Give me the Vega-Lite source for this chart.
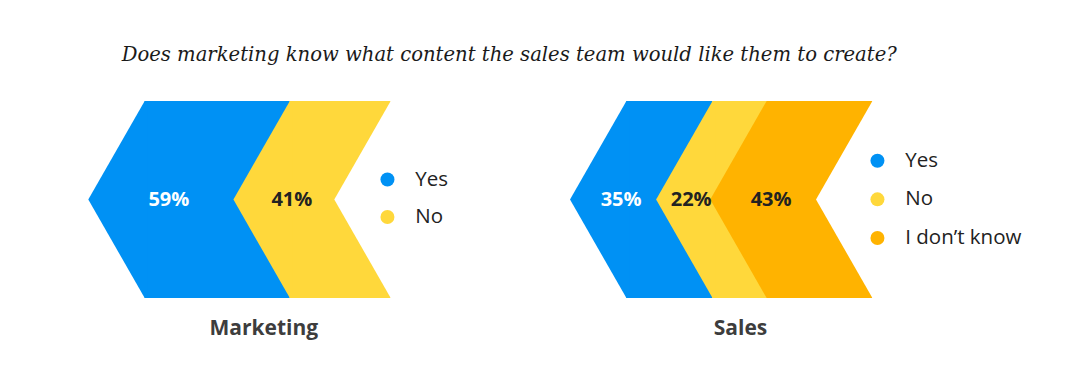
{
  "$schema": "https://vega.github.io/schema/vega-lite/v6.json",
  "padding": {"left": 0, "top": 44, "right": 0, "bottom": 20},
  "autosize": {"type": "pad"},
  "background": "#ffffff",
  "config": {"view": {"stroke": null}, "concat": {"spacing": 0}},
  "title": {
    "text": "Does marketing know what content the sales team would like them to create?",
    "anchor": "start",
    "frame": "group",
    "dx": 121.7,
    "font": "DejaVu Serif",
    "fontStyle": "italic",
    "fontWeight": "normal",
    "fontSize": 19.6,
    "color": "#1a1a1a",
    "baseline": "alphabetic",
    "offset": 20.5
  },
  "data": {
    "values": [
      {"chart": "Marketing", "answer": "Yes", "pct": 0.59},
      {"chart": "Marketing", "answer": "No", "pct": 0.41},
      {"chart": "Sales", "answer": "Yes", "pct": 0.35},
      {"chart": "Sales", "answer": "No", "pct": 0.22},
      {"chart": "Sales", "answer": "I don’t know", "pct": 0.43}
    ]
  },
  "spacing": 0,
  "resolve": {
    "scale": {"x": "independent", "color": "independent"},
    "legend": {"color": "independent"}
  },
  "hconcat": [
    {
      "width": 500,
      "height": 197,
      "transform": [
        {"filter": "datum.chart === 'Marketing'"},
        {"stack": "pct", "groupby": ["chart"], "sort": [{"field": "answer", "order": "descending"}], "as": ["x0", "x1"]}
      ],
      "layer": [
        {
          "mark": {"type": "rect", "xOffset": 56.4, "x2Offset": 56.4},
          "encoding": {
            "x": {
              "field": "x0", "type": "quantitative", "title": "Marketing",
              "scale": {"domain": [-0.3589, 1.6736], "nice": false, "zero": false},
              "axis": {"labels": false, "ticks": false, "domain": false, "grid": false,
                "titleFont": "Open Sans", "titleFontSize": 21, "titleFontWeight": "bold", "titleColor": "#3d3d3d",
                "titleX": 263.3, "titleY": 36, "titleAlign": "center", "titleBaseline": "alphabetic"}
            },
            "x2": {"field": "x1"},
            "color": {
              "field": "answer", "type": "nominal",
              "scale": {"domain": ["Yes", "No"], "range": ["#0091F4", "#FFD83B"]},
              "legend": {"title": null, "orient": "none", "legendX": 377.2, "legendY": 68.3, "symbolType": "circle",
                "symbolSize": 196, "symbolStrokeWidth": 0, "symbolOpacity": 1, "labelFont": "Open Sans", "labelFontSize": 20.5,
                "labelColor": "#222222", "labelOffset": 17.5, "rowPadding": 16.4, "padding": 0}
            }
          }
        },
        {
          "mark": {"type": "point", "shape": "M0,0L0.5726,-1L0.6,-1L0.6,1L0.5726,1Z", "size": 38809, "filled": true, "opacity": 1, "strokeWidth": 0},
          "encoding": {
            "x": {"field": "x0", "type": "quantitative", "title": "Marketing"},
            "color": {"field": "answer", "type": "nominal"}
          }
        },
        {
          "transform": [{"filter": "datum.x1 > 0.999"}],
          "mark": {"type": "point", "shape": "M0,0L0.5726,-1L0.6,-1L0.6,1L0.5726,1Z", "size": 38809, "filled": true, "opacity": 1, "strokeWidth": 0, "color": "#ffffff"},
          "encoding": {
            "x": {"field": "x1", "type": "quantitative", "title": "Marketing"}
          }
        },
        {
          "transform": [
            {"fold": ["x0", "x1"], "as": ["edge", "pos"]},
            {"aggregate": [{"op": "mean", "field": "pos", "as": "mid"}, {"op": "max", "field": "pct", "as": "share"}], "groupby": ["answer"]}
          ],
          "mark": {"type": "text", "font": "Open Sans", "fontSize": 20, "fontWeight": "bold", "dx": 8, "baseline": "middle", "align": "center"},
          "encoding": {
            "x": {"field": "mid", "type": "quantitative", "title": "Marketing"},
            "text": {"field": "share", "type": "quantitative", "format": ".0%"},
            "color": {"condition": {"test": "datum.answer === 'Yes'", "value": "#ffffff"}, "value": "#222222"}
          }
        }
      ]
    },
    {
      "width": 580,
      "height": 197,
      "transform": [
        {"filter": "datum.chart === 'Sales'"},
        {"stack": "pct", "groupby": ["chart"], "sort": [{"field": "answer", "order": "descending"}], "as": ["x0", "x1"]}
      ],
      "layer": [
        {
          "mark": {"type": "rect", "xOffset": 56.4, "x2Offset": 56.4},
          "encoding": {
            "x": {
              "field": "x0", "type": "quantitative", "title": "Sales",
              "scale": {"domain": [-0.2846, 2.0731], "nice": false, "zero": false},
              "axis": {"labels": false, "ticks": false, "domain": false, "grid": false,
                "titleFont": "Open Sans", "titleFontSize": 21, "titleFontWeight": "bold", "titleColor": "#3d3d3d",
                "titleX": 240, "titleY": 36, "titleAlign": "center", "titleBaseline": "alphabetic"}
            },
            "x2": {"field": "x1"},
            "color": {
              "field": "answer", "type": "nominal",
              "scale": {"domain": ["Yes", "No", "I don’t know"], "range": ["#0091F4", "#FFD83B", "#FFB300"]},
              "legend": {"title": null, "orient": "none", "legendX": 367.2, "legendY": 49.5, "symbolType": "circle",
                "symbolSize": 196, "symbolStrokeWidth": 0, "symbolOpacity": 1, "labelFont": "Open Sans", "labelFontSize": 20.5,
                "labelColor": "#222222", "labelOffset": 17.5, "rowPadding": 17.6, "padding": 0}
            }
          }
        },
        {
          "mark": {"type": "point", "shape": "M0,0L0.5726,-1L0.6,-1L0.6,1L0.5726,1Z", "size": 38809, "filled": true, "opacity": 1, "strokeWidth": 0},
          "encoding": {
            "x": {"field": "x0", "type": "quantitative", "title": "Sales"},
            "color": {"field": "answer", "type": "nominal"}
          }
        },
        {
          "transform": [{"filter": "datum.x1 > 0.999"}],
          "mark": {"type": "point", "shape": "M0,0L0.5726,-1L0.6,-1L0.6,1L0.5726,1Z", "size": 38809, "filled": true, "opacity": 1, "strokeWidth": 0, "color": "#ffffff"},
          "encoding": {
            "x": {"field": "x1", "type": "quantitative", "title": "Sales"}
          }
        },
        {
          "transform": [
            {"fold": ["x0", "x1"], "as": ["edge", "pos"]},
            {"aggregate": [{"op": "mean", "field": "pos", "as": "mid"}, {"op": "max", "field": "pct", "as": "share"}], "groupby": ["answer"]}
          ],
          "mark": {"type": "text", "font": "Open Sans", "fontSize": 20, "fontWeight": "bold", "dx": 8, "baseline": "middle", "align": "center"},
          "encoding": {
            "x": {"field": "mid", "type": "quantitative", "title": "Sales"},
            "text": {"field": "share", "type": "quantitative", "format": ".0%"},
            "color": {"condition": {"test": "datum.answer === 'Yes'", "value": "#ffffff"}, "value": "#222222"}
          }
        }
      ]
    }
  ]
}
